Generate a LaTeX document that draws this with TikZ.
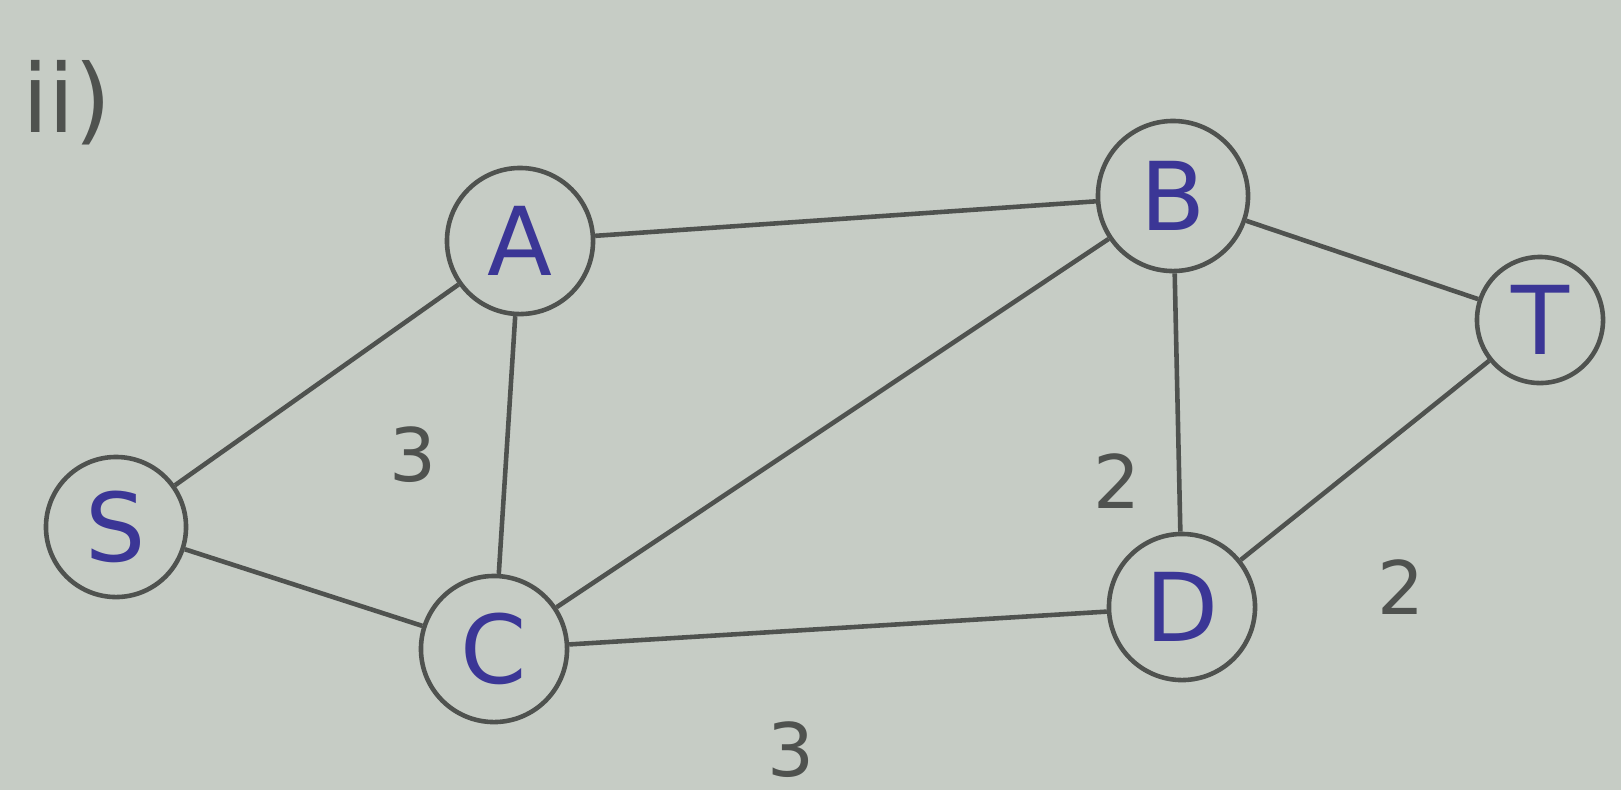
\documentclass[tikz,border=0pt]{standalone}
\usepackage{fontspec}
\setmainfont{DejaVu Sans}
\usetikzlibrary{positioning}
\definecolor{cpaper}{HTML}{C6CCC5}
\definecolor{cpencil}{HTML}{4F524F}
\definecolor{cink}{HTML}{3B3696}
\tikzset{
  every picture/.style={line width=1.3pt},
  vertex/.style={circle, draw=cpencil, fill=cpaper, minimum size=#1, inner sep=0pt,
    text=cink, font=\fontsize{27}{31}\selectfont},
  vertex/.default=1.46cm,
  edge/.style={draw=cpencil, line width=1.3pt},
  weight/.style={text=cpencil, font=\fontsize{21}{25}\selectfont},
}
\begin{document}
\begin{tikzpicture}[x=0.01cm, y=-0.01cm]
  \fill[cpaper] (0,0) rectangle (1621,790);
  \useasboundingbox (0,0) rectangle (1621,790);
  \node[weight, font=\fontsize{27}{31}\selectfont] (lbl) at (67,103) {ii)};
  % vertices
  \node[vertex] (A) at (520,241) {A};
  \node[vertex=1.5cm] (B) at (1173,196) {B};
  \node[vertex=1.26cm] (T) at (1540,320) {T};
  \node[vertex=1.4cm] (S) at (116,527) {S};
  \node[vertex] (C) at (494,649) {C};
  \node[vertex] (D) at (1182,607) {D};
  % edges
  \draw[edge] (S) -- (A);
  \draw[edge] (S) -- (C);
  \draw[edge] (A) -- (B);
  \draw[edge] (A) -- (C);
  \draw[edge] (C) -- (B);
  \draw[edge] (B) -- (D);
  \draw[edge] (B) -- (T);
  \draw[edge] (D) -- (T);
  \draw[edge] (C) -- (D);
  % weights
  \node[weight] (wAC) at (413,455) {3};
  \node[weight] (wBD) at (1117,481) {2};
  \node[weight] (wDT) at (1401,587) {2};
  \node[weight] (wCD) at (791,750) {3};
\end{tikzpicture}
\end{document}
